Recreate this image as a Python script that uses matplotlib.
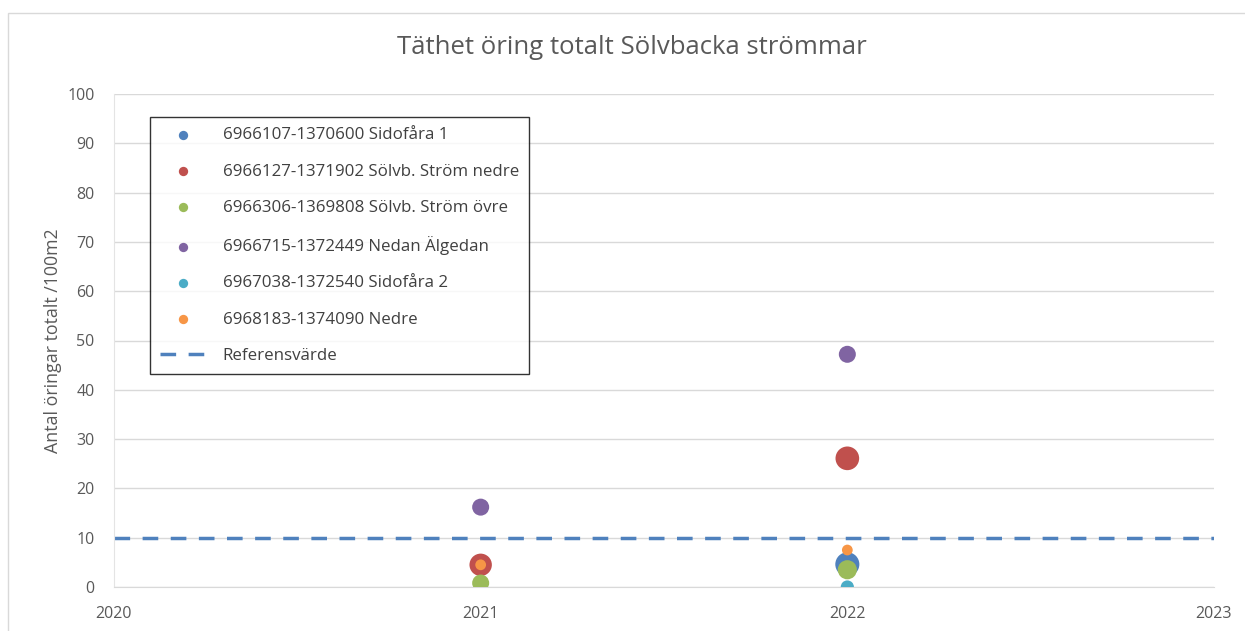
import numpy as np
import matplotlib.pyplot as plt
from matplotlib.patches import Rectangle

years = [2021, 2022]
series_names = [
    '6966107-1370600 Sidofåra 1',
    '6966127-1371902 Sölvb. Ström nedre',
    '6966306-1369808 Sölvb. Ström övre',
    '6966715-1372449 Nedan Älgedan',
    '6967038-1372540 Sidofåra 2',
    '6968183-1374090 Nedre',
]
sidofara1 = [np.nan, 4.6]
strom_nedre = [4.5, 26.1]
strom_ovre = [0.8, 3.5]
nedan_algedan = [16.2, 47.2]
sidofara2 = [np.nan, 0.0]
nedre = [4.5, 7.5]
ref_value = 10

colors = ['#4F81BD', '#C0504D', '#9BBB59', '#8064A2', '#4BACC6', '#F79646']
# marker sizes per point (pt^2)
sizes = [[0, 300], [260, 290], [150, 190], [150, 150], [0, 90], [60, 60]]

plt.rcParams['font.family'] = ['Open Sans', 'DejaVu Sans']

fig = plt.figure(figsize=(12.45, 6.31), dpi=100)
fig.patches.append(Rectangle((8 / 1245, -0.01), 1.0, 1 - 13 / 631 + 0.01,
                             transform=fig.transFigure, fill=False,
                             edgecolor='#d9d9d9', linewidth=1))
ax = fig.add_axes([114 / 1245, 1 - 587 / 631, (1214 - 114) / 1245, (587 - 94) / 631])

all_values = [sidofara1, strom_nedre, strom_ovre, nedan_algedan, sidofara2, nedre]
for name, vals, c, s in zip(series_names, all_values, colors, sizes):
    ax.scatter(years, vals, s=s, color=c, zorder=3, linewidths=0)
    ax.scatter([], [], s=45, color=c, label=name, linewidths=0)

ax.axhline(ref_value, color='#4F81BD', linewidth=2.5, dashes=(4.5, 3.6),
           label='Referensvärde', zorder=2)

ax.set_xlim(2020, 2023)
ax.set_ylim(0, 100)
ax.set_xticks([2020, 2021, 2022, 2023])
ax.set_yticks(range(0, 101, 10))
ax.grid(axis='y', color='#d9d9d9', linewidth=1)
ax.set_axisbelow(True)
for side in ['top', 'right']:
    ax.spines[side].set_visible(False)
ax.spines['bottom'].set_color('#d9d9d9')
ax.spines['left'].set_color('#e4e4e4')
ax.tick_params(length=0, labelsize=11.5, labelcolor='#595959')
ax.tick_params(axis='x', pad=14)
ax.tick_params(axis='y', pad=14)

ax.set_ylabel('Antal öringar totalt /100m2', fontsize=12.8, color='#595959', labelpad=4)
fig.suptitle('Täthet öring totalt Sölvbacka strömmar', fontsize=18.5, color='#595959',
             x=632 / 1245, y=1 - 47 / 631, va='center')

leg = ax.legend(loc='upper left', bbox_to_anchor=(36 / 1100, 1 - 23 / 493),
                borderaxespad=0, frameon=True, fancybox=False, fontsize=12.2,
                labelspacing=1.2, handlelength=2.7, borderpad=0.6,
                handletextpad=1.0, labelcolor='#404040')
leg.get_frame().set_edgecolor('black')
leg.get_frame().set_linewidth(1)

fig.savefig('out.png', dpi=100)
